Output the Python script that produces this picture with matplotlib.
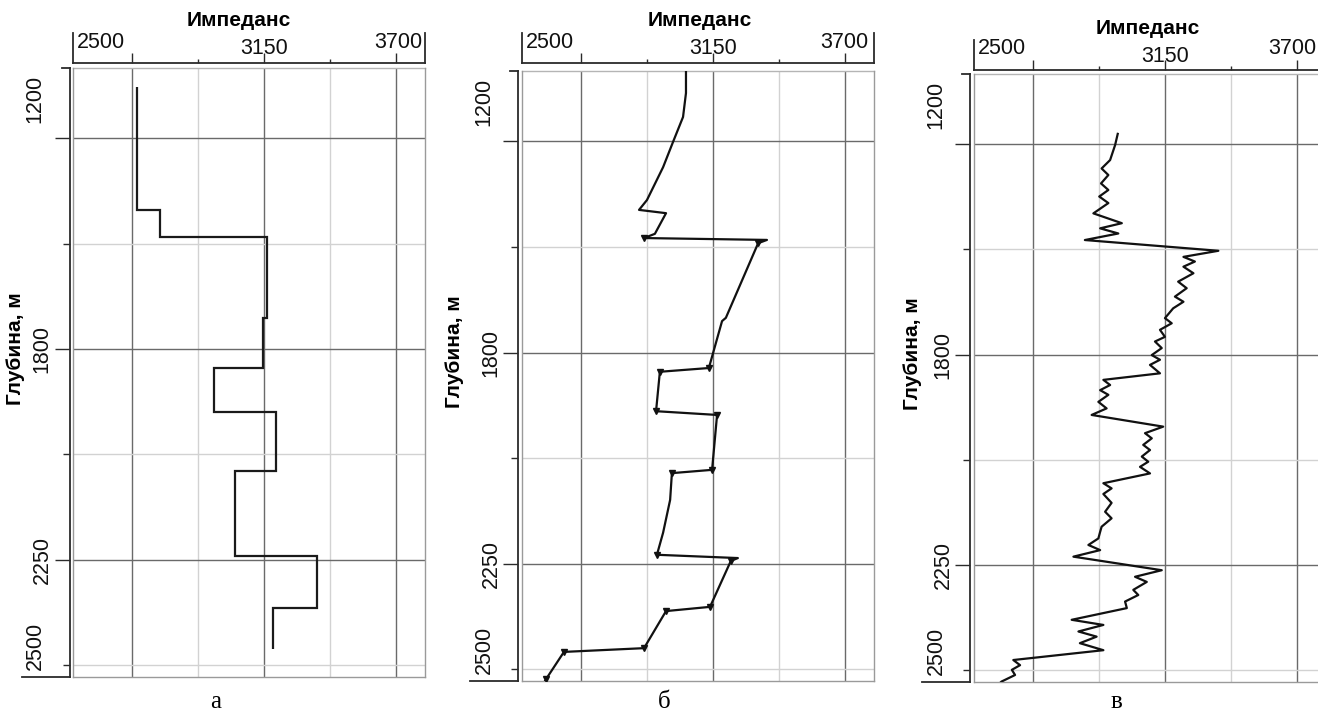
import matplotlib.pyplot as plt

plt.rcParams['font.family'] = ['Liberation Sans', 'DejaVu Sans']

# оси
imp_min, imp_max = 2500, 3700
depth_top, depth_bottom = 1200, 2500
imp_ticks = [2500, 3150, 3700]
depth_ticks = [1200, 1800, 2250, 2500]
imp_grid_major = [2700, 3150, 3600]
imp_grid_minor = [2925, 3375]
depth_grid_major = [1350, 1800, 2250]
depth_grid_minor = [1575, 2025, 2475]
panel_labels = ['а', 'б', 'в']

# а - пластовая модель (границы слоёв и импеданс в слоях)
depth_a = [1241, 1503, 1561, 1734, 1840, 1934, 2060, 2242, 2353, 2440]
imp_a = [2717, 2797, 3161, 3148, 2981, 3192, 3052, 3332, 3182]

# б - сглаженная модель
depth_b = [1200, 1247, 1298, 1351, 1405, 1475, 1496, 1503, 1547, 1556,
           1560, 1567, 1726, 1733, 1833, 1841, 1925, 1933, 2050, 2057,
           2114, 2184, 2231, 2238, 2244, 2342, 2351, 2430, 2438, 2496, 2519]
imp_b = [3059, 3059, 3049, 3015, 2981, 2926, 2899, 2991, 2953, 2916,
         3335, 3305, 3195, 3182, 3137, 2970, 2957, 3165, 3148, 3011,
         3005, 2981, 2960, 3236, 3212, 3141, 2991, 2916, 2643, 2582, 2561]
marks_b = [9, 11, 14, 15, 16, 17, 18, 19, 22, 24, 25, 26, 27, 28, 29]

# в - результат инверсии
depth_c = [1328, 1352, 1384, 1402, 1416, 1434, 1448, 1462, 1476, 1498,
           1519, 1530, 1541, 1555, 1578, 1591, 1601, 1612, 1626, 1644,
           1658, 1676, 1687, 1701, 1722, 1733, 1747, 1762, 1772, 1786,
           1801, 1811, 1822, 1840, 1854, 1865, 1876, 1886, 1901, 1915,
           1929, 1954, 1968, 1979, 1993, 2004, 2018, 2029, 2040, 2054,
           2075, 2086, 2098, 2117, 2136, 2150, 2168, 2179, 2193, 2207,
           2218, 2232, 2261, 2275, 2286, 2303, 2314, 2328, 2342, 2367,
           2378, 2392, 2403, 2417, 2432, 2453, 2464, 2474, 2485, 2499, 2506]
imp_c = [2990, 2981, 2964, 2935, 2958, 2933, 2958, 2927, 2958, 2907,
         3004, 2930, 2992, 2878, 3333, 3214, 3253, 3214, 3248, 3196,
         3225, 3185, 3214, 3179, 3151, 3174, 3134, 3151, 3117, 3140,
         3106, 3134, 3100, 3134, 2941, 2964, 2930, 2958, 2924, 2952,
         2901, 3145, 3083, 3106, 3077, 3100, 3072, 3094, 3066, 3100,
         2941, 2969, 2941, 2969, 2947, 2969, 2935, 2930, 2924, 2890,
         2930, 2839, 3140, 3049, 3089, 3043, 3060, 3015, 3021, 2833,
         2941, 2856, 2918, 2861, 2941, 2634, 2657, 2629, 2640, 2594, 2582]

W, H = 1318, 713
fig = plt.figure(figsize=(W / 100, H / 100), dpi=100)
px = 72 / fig.dpi

# положение панелей в пикселях: left, top, width, height
boxes = [(73, 68, 352, 609), (522, 71, 352, 610), (974, 74, 352, 608)]
top_out = [5, 8, 4]
left_out = [3, 4, 4]
title_x = [0.47, 0.506, 0.494]
ylabel_dx = [57, 67, 61]
right_dx = [-3, -6, -10]
caption_base = 708

dark = '#2b2b2b'
fs = 15.5
for k, (l, t, w, h) in enumerate(boxes):
    ax = fig.add_axes([l / W, 1 - (t + h) / H, w / W, h / H])
    ax.set_xlim(imp_min, imp_max)
    ax.set_ylim(depth_bottom, depth_top)

    for v in imp_grid_major:
        ax.axvline(v, color='#6a6a6a', lw=1.0, zorder=1)
    for v in imp_grid_minor:
        ax.axvline(v, color='#d2d2d2', lw=1.0, zorder=1)
    for d in depth_grid_major:
        ax.axhline(d, color='#6a6a6a', lw=1.0, zorder=1)
    for d in depth_grid_minor:
        ax.axhline(d, color='#d2d2d2', lw=1.0, zorder=1)

    # рамка планшета
    for s in ['right', 'bottom']:
        ax.spines[s].set_color('#9a9a9a')
        ax.spines[s].set_linewidth(1.0)
    ax.axhline(depth_top, color='#b5b5b5', lw=1.0, clip_on=False, zorder=1)
    ax.axvline(imp_min, color='#9a9a9a', lw=1.0, clip_on=False, zorder=1)

    # вынесенные оси
    ax.spines['top'].set_position(('outward', top_out[k] * px))
    ax.spines['left'].set_position(('outward', left_out[k] * px))
    for s in ['top', 'left']:
        ax.spines[s].set_color(dark)
        ax.spines[s].set_linewidth(1.3)

    ax.xaxis.tick_top()
    ax.set_xticks(imp_grid_major)
    ax.set_xticks(imp_grid_minor, minor=True)
    ax.set_yticks(depth_grid_major)
    ax.set_yticks(depth_grid_minor, minor=True)
    ax.tick_params(axis='x', which='major', length=10 * px, width=1.0, color=dark,
                   labeltop=False, labelbottom=False, bottom=False)
    ax.tick_params(axis='x', which='minor', length=4 * px, width=1.0, color=dark,
                   labeltop=False, labelbottom=False, bottom=False)
    ax.tick_params(axis='y', which='major', length=15 * px, width=1.0, color=dark,
                   labelleft=False)
    ax.tick_params(axis='y', which='minor', length=7 * px, width=1.0, color=dark,
                   labelleft=False)

    # концевые засечки осей
    xt = ax.get_xaxis_transform()
    for v in [imp_min, imp_max]:
        ax.plot([v, v], [1 + top_out[k] / h, 1 + (top_out[k] + 30) / h],
                transform=xt, color=dark, lw=1.3, clip_on=False)
    yt = ax.get_yaxis_transform()
    ax.plot([-left_out[k] / w, -(left_out[k] + 8) / w], [depth_top, depth_top],
            transform=yt, color=dark, lw=1.3, clip_on=False)
    ax.plot([-left_out[k] / w, -(left_out[k] + 48) / w], [depth_bottom, depth_bottom],
            transform=yt, color=dark, lw=1.3, clip_on=False)

    # подписи шкалы импеданса
    for v, ha, dx, dy in zip(imp_ticks, ['left', 'center', 'right'],
                             [4, 0, right_dx[k]], [21, 14, 21]):
        ax.annotate(str(v), xy=(v, 1), xycoords=('data', 'axes fraction'),
                    xytext=(dx, top_out[k] + dy), textcoords='offset pixels',
                    ha=ha, va='center', fontsize=fs, color='#111111')
    ax.annotate('Импеданс', xy=(title_x[k], 1), xycoords='axes fraction',
                xytext=(0, top_out[k] + 42), textcoords='offset pixels',
                ha='center', va='center', fontsize=15, fontweight='bold')

    # подписи глубин
    for d, va, dx, dy in zip(depth_ticks, ['top', 'center', 'center', 'bottom'],
                             [38, 31, 31, 38], [-7, 0, 0, 7]):
        ax.annotate(str(d), xy=(0, d), xycoords=('axes fraction', 'data'),
                    xytext=(-dx, dy), textcoords='offset pixels', rotation=90,
                    ha='center', va=va, fontsize=fs, color='#111111')
    ax.annotate('Глубина, м', xy=(0, 0.54), xycoords='axes fraction',
                xytext=(-ylabel_dx[k], 0), textcoords='offset pixels', rotation=90,
                ha='center', va='center', fontsize=15, fontweight='bold')

    ax.annotate(panel_labels[k], xy=(0.405, 0), xycoords='axes fraction',
                xytext=(0, -(caption_base - (t + h))), textcoords='offset pixels',
                ha='center', va='baseline', fontsize=18,
                family=['Liberation Serif', 'DejaVu Serif'])

    if k == 0:
        ax.stairs(imp_a, depth_a, orientation='horizontal', baseline=None,
                  color='#1a1a1a', lw=1.6, zorder=3)
    elif k == 1:
        ax.plot(imp_b, depth_b, color='#111111', lw=1.6, zorder=3,
                marker='v', markersize=4, markevery=marks_b)
    else:
        ax.plot(imp_c, depth_c, color='#111111', lw=1.6, zorder=3,
                solid_joinstyle='round')

fig.savefig('out.png', dpi=100)
